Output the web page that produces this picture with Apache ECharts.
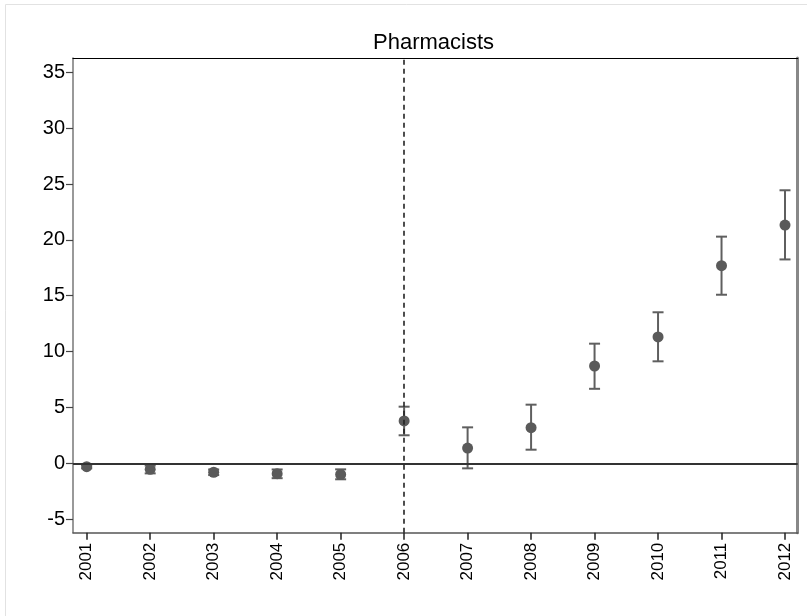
<!DOCTYPE html>
<html>
<head>
<meta charset="utf-8">
<script src="https://cdn.jsdelivr.net/npm/echarts@6/dist/echarts.min.js"></script>
<style>
html,body{margin:0;padding:0;background:#fff;}
#c{width:807px;height:616px;}
</style>
</head>
<body>
<div id="c"></div>
<script>
var years = [2001,2002,2003,2004,2005,2006,2007,2008,2009,2010,2011,2012];
var estimates = [-0.3,-0.54,-0.8,-0.93,-1.0,3.79,1.37,3.19,8.71,11.31,17.69,21.33];
var lower = [-0.45,-0.9,-1.05,-1.33,-1.43,2.51,-0.45,1.22,6.67,9.13,15.09,18.25];
var upper = [-0.15,-0.2,-0.55,-0.55,-0.54,5.07,3.22,5.25,10.71,13.52,20.29,24.44];
var yTicks = [-5,0,5,10,15,20,25,30,35];
var eventYear = 2006;
var titleText = 'Pharmacists';

var chart = echarts.init(document.getElementById('c'), null, {renderer:'canvas'});
var ciData = years.map(function(y,i){return [y, lower[i], upper[i]];});
var ptData = years.map(function(y,i){return [y, estimates[i]];});
var font = 'Liberation Sans, Arial, sans-serif';

chart.setOption({
  animation:false,
  backgroundColor:'#fff',
  title:{text:titleText,left:368,top:27,
    textStyle:{fontFamily:font,fontSize:22,fontWeight:'normal',color:'#000'}},
  graphic:[{type:'rect',shape:{x:5.5,y:4.5,width:820,height:640},
    style:{fill:null,stroke:'#e2e2e2',lineWidth:1},silent:true,z:-10}],
  grid:{left:73,top:58,right:9.3,bottom:83.3,containLabel:false},
  xAxis:[{
    type:'value',min:2000.784,max:2012.2,
    axisLine:{show:true,onZero:false,lineStyle:{color:'#555',width:1.5}},
    axisTick:{show:true,length:7,customValues:years,lineStyle:{color:'#222',width:1.5}},
    axisLabel:{show:true,customValues:years,rotate:90,margin:10,fontFamily:font,fontSize:17,color:'#000',
      formatter:function(v){return String(Math.round(v));}},
    splitLine:{show:false}
  },{
    type:'value',position:'top',min:2000.784,max:2012.2,
    axisLine:{show:true,onZero:false,lineStyle:{color:'#000',width:1.2}},
    axisTick:{show:false},axisLabel:{show:false},splitLine:{show:false}
  }],
  yAxis:[{
    type:'value',min:-6.21,max:36.28,
    axisLine:{show:true,onZero:false,lineStyle:{color:'#777',width:1.5}},
    axisTick:{show:true,length:7,customValues:yTicks,lineStyle:{color:'#444',width:1.2}},
    axisLabel:{show:true,customValues:yTicks,margin:8,fontFamily:font,fontSize:20,color:'#000'},
    splitLine:{show:false}
  },{
    type:'value',position:'right',min:-6.21,max:36.28,
    axisLine:{show:true,onZero:false,lineStyle:{color:'#888',width:3}},
    axisTick:{show:false},axisLabel:{show:false},splitLine:{show:false}
  }],
  series:[{
    type:'custom',
    xAxisIndex:0,yAxisIndex:0,
    data:ciData,
    z:3,
    renderItem:function(params,api){
      var x = api.value(0);
      var lo = api.coord([x, api.value(1)]);
      var hi = api.coord([x, api.value(2)]);
      var hw = 5.5;
      var st = {stroke:'#5f5f5f',lineWidth:2,fill:null};
      return {type:'group',children:[
        {type:'line',shape:{x1:lo[0],y1:lo[1],x2:hi[0],y2:hi[1]},style:st},
        {type:'line',shape:{x1:lo[0]-hw,y1:lo[1],x2:lo[0]+hw,y2:lo[1]},style:st},
        {type:'line',shape:{x1:hi[0]-hw,y1:hi[1],x2:hi[0]+hw,y2:hi[1]},style:st}
      ]};
    },
    markLine:{
      silent:true,symbol:'none',label:{show:false},
      data:[
        {yAxis:0,lineStyle:{color:'#333',width:2,type:'solid'}},
        {xAxis:eventYear,lineStyle:{color:'#222',width:1.6,type:[5,4]}}
      ]
    }
  },{
    type:'scatter',
    xAxisIndex:0,yAxisIndex:0,
    data:ptData,
    symbol:'circle',symbolSize:11,z:4,
    itemStyle:{color:'#5a5a5a',opacity:1}
  }]
});
</script>
</body>
</html>
